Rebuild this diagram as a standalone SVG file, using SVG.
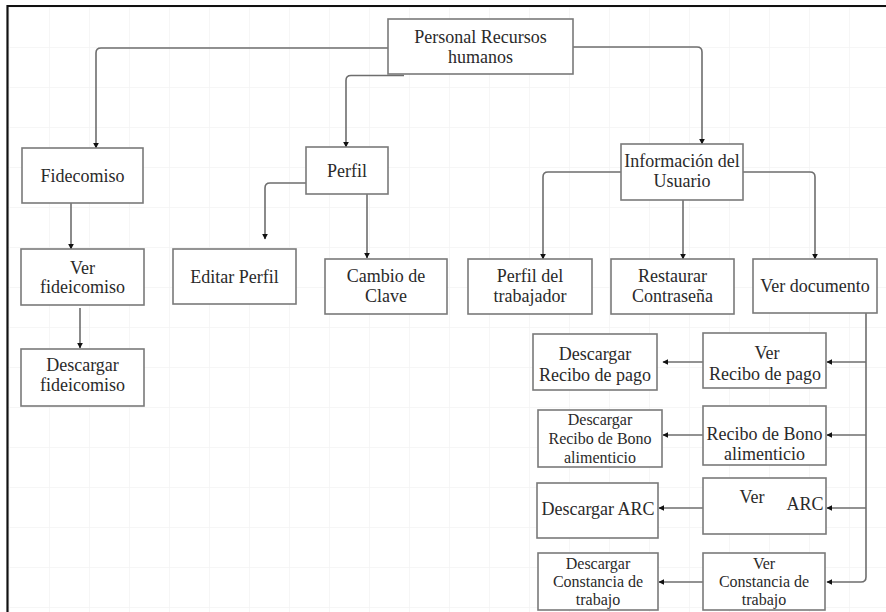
<svg xmlns="http://www.w3.org/2000/svg" width="886" height="612" viewBox="0 0 886 612">
<style>
.box{fill:#fff;stroke:#7a7a7a;stroke-width:1.6}
.t{font-family:'Liberation Serif',Tinos,'Times New Roman','DejaVu Serif',serif;font-size:18px;fill:#2a2a2a;text-anchor:middle}
.s{font-size:16px}
.c{fill:none;stroke:#6e6e6e;stroke-width:1.6}
</style>
<defs>
<pattern id="grid" width="40" height="40" patternUnits="userSpaceOnUse" x="10" y="8">
<path d="M40,0 V40 M0,40 H40" fill="none" stroke="#f4f4f4" stroke-width="1.5"/>
</pattern>
<marker id="ah" viewBox="0 0 10 10" refX="9" refY="5" markerWidth="6" markerHeight="6" orient="auto" markerUnits="userSpaceOnUse">
<path d="M0,0 L10,5 L0,10 z" fill="#111"/>
</marker>
</defs>
<rect width="886" height="612" fill="#fff"/>
<rect x="8" y="7" width="878" height="605" fill="url(#grid)"/>
<path d="M7.5,612 V6 H886" fill="none" stroke="#111" stroke-width="2.2"/>

<g id="connectors">
<path class="c" marker-end="url(#ah)" d="M388,48 H101 Q96,48 96,53 V148"/>
<path class="c" marker-end="url(#ah)" d="M404,75.5 H351 Q346,75.5 346,80.5 V147"/>
<path class="c" marker-end="url(#ah)" d="M573,47 H697 Q702,47 702,52 V144"/>
<path class="c" marker-end="url(#ah)" d="M71,203 V249"/>
<path class="c" marker-end="url(#ah)" d="M80,308 V348"/>
<path class="c" marker-end="url(#ah)" d="M306,183 H270 Q265,183 265,188 V239"/>
<path class="c" marker-end="url(#ah)" d="M367,194 V258"/>
<path class="c" marker-end="url(#ah)" d="M621,172 H548 Q543,172 543,177 V259"/>
<path class="c" marker-end="url(#ah)" d="M683,200 V259"/>
<path class="c" marker-end="url(#ah)" d="M743,172 H810 Q815,172 815,177 V259"/>
<path class="c" marker-end="url(#ah)" d="M866,313 V577 Q866,582 861,582 H827"/>
<path class="c" marker-end="url(#ah)" d="M866,362 H827"/>
<path class="c" marker-end="url(#ah)" d="M866,435 H827"/>
<path class="c" marker-end="url(#ah)" d="M866,508 H827"/>
<path class="c" marker-end="url(#ah)" d="M703,362 H663"/>
<path class="c" marker-end="url(#ah)" d="M703,435 H663"/>
<path class="c" marker-end="url(#ah)" d="M703,508 H659"/>
<path class="c" marker-end="url(#ah)" d="M703,582 H659"/>
</g>

<g id="personal"><rect class="box" x="388" y="19" width="185" height="55"/>
<text class="t" x="480.5" y="43">Personal Recursos</text><text class="t" x="480.5" y="63">humanos</text></g>

<g id="fidecomiso"><rect class="box" x="22" y="148" width="121" height="55"/>
<text class="t" x="82.5" y="182">Fidecomiso</text></g>

<g id="perfil"><rect class="box" x="306" y="147" width="82" height="47"/>
<text class="t" x="347" y="177">Perfil</text></g>

<g id="info"><rect class="box" x="621" y="144" width="122" height="56"/>
<text class="t" x="682" y="167">Información del</text><text class="t" x="682" y="187">Usuario</text></g>

<g id="ver-fideicomiso"><rect class="box" x="21" y="249" width="123" height="56"/>
<text class="t" x="82.5" y="274">Ver</text><text class="t" x="82.5" y="293">fideicomiso</text></g>

<g id="descargar-fideicomiso"><rect class="box" x="21" y="349" width="123" height="57"/>
<text class="t" x="82.5" y="371">Descargar</text><text class="t" x="82.5" y="391">fideicomiso</text></g>

<g id="editar-perfil"><rect class="box" x="173" y="249" width="123" height="55"/>
<text class="t" x="234.5" y="283">Editar Perfil</text></g>

<g id="cambio-clave"><rect class="box" x="325" y="259" width="122" height="55"/>
<text class="t" x="386" y="282">Cambio de</text><text class="t" x="386" y="302">Clave</text></g>

<g id="perfil-trabajador"><rect class="box" x="468" y="259" width="124" height="55"/>
<text class="t" x="530" y="282">Perfil del</text><text class="t" x="530" y="302">trabajador</text></g>

<g id="restaurar"><rect class="box" x="611" y="259" width="123" height="55"/>
<text class="t" x="672.5" y="282">Restaurar</text><text class="t" x="672.5" y="302">Contraseña</text></g>

<g id="ver-documento"><rect class="box" x="753" y="259" width="124" height="54"/>
<text class="t" x="815" y="292">Ver documento</text></g>

<g id="descargar-pago"><rect class="box" x="533" y="334" width="124" height="56"/>
<text class="t" x="595" y="360">Descargar</text><text class="t" x="595" y="381">Recibo de pago</text></g>

<g id="ver-pago"><rect class="box" x="703" y="333" width="123" height="55"/>
<text class="t" x="767" y="359">Ver</text><text class="t" x="765" y="380">Recibo de pago</text></g>

<g id="descargar-bono"><rect class="box" x="538" y="410" width="124" height="57"/>
<text class="t s" x="600" y="425">Descargar</text><text class="t s" x="600" y="444">Recibo de Bono</text><text class="t s" x="600" y="463">alimenticio</text></g>

<g id="ver-bono"><rect class="box" x="703" y="406" width="123" height="59"/>
<text class="t" x="764.5" y="440">Recibo de Bono</text><text class="t" x="764.5" y="460">alimenticio</text></g>

<g id="descargar-arc"><rect class="box" x="537" y="483" width="121" height="55"/>
<text class="t" x="598" y="515">Descargar ARC</text></g>

<g id="ver-arc"><rect class="box" x="703" y="478" width="123" height="56"/>
<text class="t" x="752" y="503">Ver</text><text class="t" x="805" y="510">ARC</text></g>

<g id="descargar-constancia"><rect class="box" x="538" y="553" width="120" height="57"/>
<text class="t s" x="598" y="569">Descargar</text><text class="t s" x="598" y="587">Constancia de</text><text class="t s" x="598" y="605">trabajo</text></g>

<g id="ver-constancia"><rect class="box" x="703" y="553" width="122" height="57"/>
<text class="t s" x="764" y="569">Ver</text><text class="t s" x="764" y="587">Constancia de</text><text class="t s" x="764" y="605">trabajo</text></g>
</svg>
